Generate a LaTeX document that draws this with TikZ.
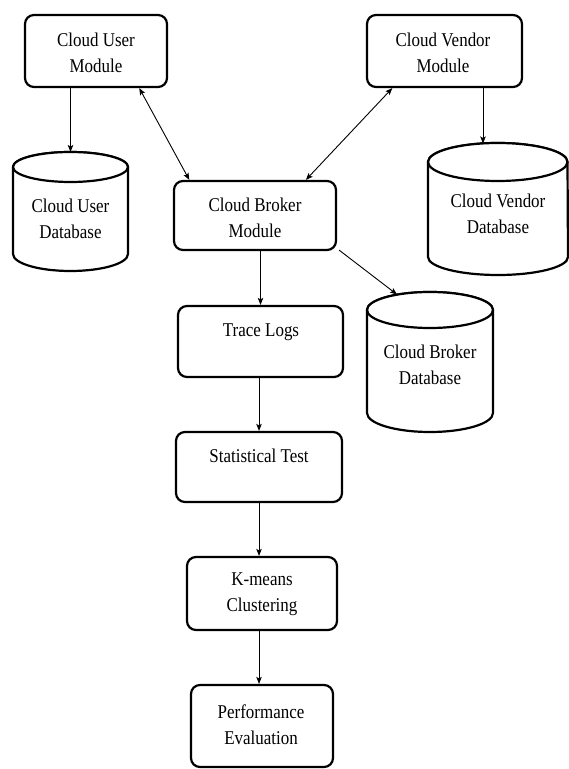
\documentclass[tikz,border=0pt]{standalone}
\usepackage{fontspec}
\setmainfont{Liberation Serif}[FakeStretch=0.87]
\usetikzlibrary{arrows.meta,calc}
\tikzset{
  box/.style={draw=black, line width=2.2pt, rounded corners=9pt, fill=white, inner sep=0pt},
  txt/.style={font=\fontsize{19.5}{26}\selectfont, align=center, inner sep=0pt},
  cyl/.style={draw=black, line width=2.2pt, fill=white},
  arr/.style={draw=black, line width=0.9pt, -{Stealth[length=7pt,width=5.5pt,inset=1.5pt]}},
  darr/.style={draw=black, line width=0.9pt, {Stealth[length=7pt,width=5.5pt,inset=1.5pt]}-{Stealth[length=7pt,width=5.5pt,inset=1.5pt]}}
}
\begin{document}
\begin{tikzpicture}[x=1pt,y=1pt]
\useasboundingbox (0,0) rectangle (569,769);
% rounded boxes
\node[box, minimum width=142pt, minimum height=72pt] (cu) at (96,718) {};
\node[txt] (cut) at (96,716) {Cloud User\\Module};
\node[box, minimum width=155pt, minimum height=72pt] (cv) at (444.5,718) {};
\node[txt] (cvt) at (443,716) {Cloud Vendor\\Module};
\node[box, minimum width=162pt, minimum height=69pt] (cb) at (255,553.5) {};
\node[txt] (cbt) at (255,551) {Cloud Broker\\Module};
\node[box, minimum width=165pt, minimum height=71pt] (tl) at (260.5,427.5) {};
\node[txt] (tlt) at (261,437) {Trace Logs};
\node[box, minimum width=166pt, minimum height=70pt] (st) at (259,302) {};
\node[txt] (stt) at (259,313) {Statistical Test};
\node[box, minimum width=150pt, minimum height=73pt] (km) at (262,175.5) {};
\node[txt] (kmt) at (262,174.5) {K-means\\Clustering};
\node[box, minimum width=142pt, minimum height=82pt] (pe) at (262,43) {};
\node[txt] (pet) at (261,44.5) {Performance\\Evaluation};
% cylinders
\path[cyl] (13,602) -- (13,515) arc[start angle=180,end angle=360,x radius=57.5,y radius=17] -- (128,602) arc[start angle=0,end angle=180,x radius=57.5,y radius=15] -- cycle;
\draw[cyl] (70.5,602) ellipse [x radius=57.5, y radius=15];
\node[txt] (ud) at (70.5,550.5) {Cloud User\\Database};
\coordinate (udtop) at (70.5,617);
\path[cyl] (428,607) -- (428,512) arc[start angle=180,end angle=360,x radius=70,y radius=18] -- (567.5,607) arc[start angle=0,end angle=180,x radius=69.75,y radius=19] -- cycle;
\draw[cyl] (497.75,607) ellipse [x radius=69.75, y radius=19];
\node[txt] (vd) at (498,555.5) {Cloud Vendor\\Database};
\coordinate (vdtop) at (483,625.5);
\path[cyl] (367,459) -- (367,356) arc[start angle=180,end angle=360,x radius=63,y radius=19] -- (493,459) arc[start angle=0,end angle=180,x radius=63,y radius=18] -- cycle;
\draw[cyl] (430,459) ellipse [x radius=63, y radius=18];
\node[txt] (bd) at (430,404.5) {Cloud Broker\\Database};
\coordinate (bdtop) at (397,474.5);
% connectors
\draw[arr] (cu.south -| udtop) -- (udtop);
\draw[darr] ($(cu.south west)!0.8!(cu.south east)$) -- ($(cb.north west)!0.1!(cb.north east)$);
\draw[darr] ($(cv.south west)!0.168!(cv.south east)$) -- ($(cb.north west)!0.81!(cb.north east)$);
\draw[arr] (cv.south -| vdtop) -- (vdtop);
\coordinate (cbse) at ($(cb.south east)+(2,1)$);
\draw[arr] (cbse) -- (bdtop);
\draw[arr] (cb.south -| tl.north) -- (tl.north);
\draw[arr] (tl.south -| st.north) -- (st.north);
\draw[arr] (st.south) -- (st.south |- km.north);
\draw[arr] (km.south -| st.south) -- (st.south |- pe.north);
\end{tikzpicture}
\end{document}
